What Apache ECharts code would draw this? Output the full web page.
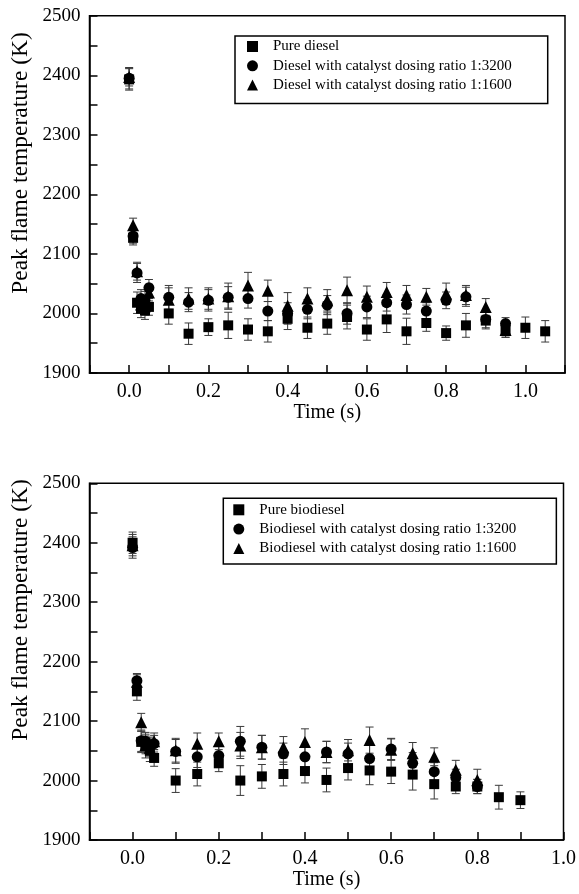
<!DOCTYPE html>
<html>
<head>
<meta charset="utf-8">
<script src="https://cdn.jsdelivr.net/npm/echarts@6/dist/echarts.min.js"></script>
<style>
html,body{margin:0;padding:0;background:#fff;}
#chart{width:579px;height:894px;}
</style>
</head>
<body>
<div id="chart"></div>
<script>
// ---------- Data: top panel (diesel) ----------
const timeDieselPure = [0, 0.01, 0.02, 0.03, 0.04, 0.05, 0.1, 0.15, 0.2, 0.25, 0.3, 0.35, 0.4, 0.45, 0.5, 0.55, 0.6, 0.65, 0.7, 0.75, 0.8, 0.85, 0.9, 0.95, 1.0, 1.05];
const tempDieselPure = [2393, 2127, 2018, 2008, 2005, 2011, 2000, 1966, 1977, 1980, 1973, 1970, 1991, 1976, 1983, 1994, 1973, 1990, 1970, 1984, 1967, 1980, 1988, 1972, 1976, 1970];
const errDieselPure  = [18, 12, 18, 15, 15, 14, 18, 18, 14, 22, 18, 18, 18, 18, 18, 20, 18, 22, 22, 14, 12, 20, 14, 12, 18, 18];

const timeDieselCat = [0, 0.01, 0.02, 0.03, 0.04, 0.05, 0.1, 0.15, 0.2, 0.25, 0.3, 0.35, 0.4, 0.45, 0.5, 0.55, 0.6, 0.65, 0.7, 0.75, 0.8, 0.85, 0.9, 0.95];
const tempDiesel3200 = [2395, 2130, 2068, 2025, 2022, 2043, 2027, 2019, 2022, 2027, 2025, 2004, 2000, 2007, 2014, 2000, 2011, 2018, 2015, 2004, 2022, 2028, 1990, 1983];
const errDiesel3200  = [18, 12, 16, 15, 15, 14, 20, 16, 18, 18, 16, 16, 18, 16, 16, 18, 18, 14, 16, 14, 14, 16, 14, 10];
const tempDiesel1600 = [2397, 2148, 2071, 2015, 2012, 2035, 2023, 2025, 2025, 2029, 2047, 2038, 2013, 2025, 2022, 2039, 2028, 2036, 2031, 2028, 2033, 2031, 2011, 1972];
const errDiesel1600  = [15, 12, 15, 15, 15, 14, 20, 18, 18, 22, 22, 18, 22, 18, 18, 22, 18, 16, 16, 14, 18, 16, 14, 12];

// ---------- Data: bottom panel (biodiesel) ----------
const timeBioPure = [0, 0.01, 0.02, 0.03, 0.04, 0.05, 0.1, 0.15, 0.2, 0.25, 0.3, 0.35, 0.4, 0.45, 0.5, 0.55, 0.6, 0.65, 0.7, 0.75, 0.8, 0.85, 0.9];
const tempBioPure = [2400, 2150, 2065, 2058, 2050, 2038, 2000, 2011, 2029, 2000, 2007, 2011, 2016, 2001, 2021, 2017, 2015, 2010, 1994, 1990, 1990, 1972, 1967];
const errBioPure  = [18, 15, 18, 20, 18, 14, 20, 20, 14, 25, 20, 20, 20, 20, 20, 24, 20, 26, 25, 12, 12, 20, 14];

const timeBioCat = [0, 0.01, 0.02, 0.03, 0.04, 0.05, 0.1, 0.15, 0.2, 0.25, 0.3, 0.35, 0.4, 0.45, 0.5, 0.55, 0.6, 0.65, 0.7, 0.75, 0.8];
const tempBio3200 = [2392, 2168, 2067, 2066, 2058, 2062, 2049, 2040, 2042, 2066, 2056, 2045, 2040, 2048, 2045, 2037, 2053, 2029, 2015, 2005, 1990];
const errBio3200  = [18, 12, 18, 15, 15, 14, 20, 18, 16, 25, 20, 18, 18, 18, 18, 22, 18, 18, 15, 14, 12];
const tempBio1600 = [2396, 2166, 2098, 2060, 2055, 2066, 2051, 2062, 2066, 2059, 2056, 2056, 2065, 2048, 2051, 2068, 2052, 2046, 2040, 2018, 2001];
const errBio1600  = [18, 12, 15, 15, 15, 14, 20, 18, 14, 22, 20, 18, 22, 18, 18, 22, 18, 18, 15, 16, 18];

// Labels
const topNames = ['Pure diesel', 'Diesel with catalyst dosing ratio 1:3200', 'Diesel with catalyst dosing ratio 1:1600'];
const botNames = ['Pure biodiesel', 'Biodiesel with catalyst dosing ratio 1:3200', 'Biodiesel with catalyst dosing ratio 1:1600'];
const xTitle = 'Time (s)';
const yTitle = 'Peak flame temperature (K)';

// ---------- Build chart ----------
const FONT = '"Liberation Serif", "DejaVu Serif", serif';
const chart = echarts.init(document.getElementById('chart'), null, {renderer: 'canvas'});

function pts(t, v) { return t.map((x, i) => [x, v[i]]); }
function errs(t, v, e) { return t.map((x, i) => [x, v[i], e[i]]); }

function errorSeries(data, gi) {
  return {
    type: 'custom', xAxisIndex: gi, yAxisIndex: gi, z: 1, silent: true,
    encode: {x: 0, y: 1},
    data: data,
    renderItem: function (params, api) {
      const x = api.value(0), y = api.value(1), e = api.value(2);
      const p1 = api.coord([x, y + e]);
      const p2 = api.coord([x, y - e]);
      const hw = 4;
      const st = {stroke: '#3a3a3a', lineWidth: 1};
      return {type: 'group', children: [
        {type: 'line', shape: {x1: p1[0], y1: p1[1], x2: p2[0], y2: p2[1]}, style: st},
        {type: 'line', shape: {x1: p1[0] - hw, y1: p1[1], x2: p1[0] + hw, y2: p1[1]}, style: st},
        {type: 'line', shape: {x1: p2[0] - hw, y1: p2[1], x2: p2[0] + hw, y2: p2[1]}, style: st}
      ]};
    }
  };
}

function scatter(name, data, gi, symbol, size) {
  return {
    type: 'scatter', name: name, xAxisIndex: gi, yAxisIndex: gi, z: 5,
    symbol: symbol, symbolSize: size, data: data,
    itemStyle: {color: '#000', opacity: 1}
  };
}

function xAxisCfg(gi, max) {
  return {
    type: 'value', gridIndex: gi, min: -0.1, max: max, interval: 0.1,
    name: xTitle, nameLocation: 'middle', nameGap: gi === 0 ? 29 : 30,
    nameTextStyle: {fontFamily: FONT, fontSize: 20, color: '#000'},
    axisLine: {show: true, onZero: false, lineStyle: {color: '#000', width: 1.5}},
    axisTick: {show: true, inside: true, length: 8, lineStyle: {color: '#000', width: 1.5}},
    axisLabel: {
      fontFamily: FONT, fontSize: 20, color: '#000', margin: 9,
      showMinLabel: true, showMaxLabel: true,
      formatter: function (v) {
        const k = Math.round(v * 10);
        return (k >= 0 && k % 2 === 0) ? (k / 10).toFixed(1) : '';
      }
    },
    splitLine: {show: false}
  };
}

function yAxisCfg(gi) {
  return {
    type: 'value', gridIndex: gi, min: 1900, max: 2500, interval: 50,
    axisLine: {show: true, onZero: false, lineStyle: {color: '#000', width: 1.5}},
    axisTick: {show: true, inside: true, length: 8, lineStyle: {color: '#000', width: 1.5}},
    axisLabel: {
      fontFamily: FONT, fontSize: 19, color: '#000', margin: 9,
      showMinLabel: true, showMaxLabel: true,
      formatter: function (v) { return (Math.round(v) % 100 === 0) ? String(Math.round(v)) : ''; }
    },
    splitLine: {show: false}
  };
}

function legendCfg(names, left, top, pad) {
  return {
    orient: 'vertical', left: left, top: top,
    data: [
      {name: names[0], icon: 'rect', itemStyle: {color: '#000'}},
      {name: names[1], icon: 'circle', itemStyle: {color: '#000'}},
      {name: names[2], icon: 'triangle', itemStyle: {color: '#000'}}
    ],
    itemWidth: 11, itemHeight: 11, itemGap: 0.3,
    padding: pad,
    borderColor: '#000', borderWidth: 1.5,
    selectedMode: false,
    textStyle: {fontFamily: FONT, fontSize: 15, color: '#000', lineHeight: 19, padding: [0, 0, 0, 10]}
  };
}

const option = {
  backgroundColor: '#fff',
  animation: false,
  grid: [
    {left: 89.5, top: 15.7, right: 14, height: 357.3, show: true, borderColor: '#000', borderWidth: 1.5, containLabel: false},
    {left: 89.5, top: 483.3, right: 14, height: 356.7, show: true, borderColor: '#000', borderWidth: 1.5, containLabel: false}
  ],
  xAxis: [xAxisCfg(0, 1.1), xAxisCfg(1, 1.0)],
  yAxis: [yAxisCfg(0), yAxisCfg(1)],
  legend: [
    legendCfg(topNames, 235, 36, [1, 36, 9, 12]),
    legendCfg(botNames, 223.3, 498.3, [2, 40, 6, 10])
  ],
  graphic: [
    {type: 'text', x: 21, y: 163, rotation: Math.PI / 2,
     style: {text: yTitle, fontFamily: FONT, fontSize: 23.5, fill: '#000', textAlign: 'center', textVerticalAlign: 'middle'}},
    {type: 'text', x: 21, y: 610, rotation: Math.PI / 2,
     style: {text: yTitle, fontFamily: FONT, fontSize: 23.5, fill: '#000', textAlign: 'center', textVerticalAlign: 'middle'}}
  ],
  series: [
    errorSeries(errs(timeDieselPure, tempDieselPure, errDieselPure), 0),
    errorSeries(errs(timeDieselCat, tempDiesel3200, errDiesel3200), 0),
    errorSeries(errs(timeDieselCat, tempDiesel1600, errDiesel1600), 0),
    scatter(topNames[0], pts(timeDieselPure, tempDieselPure), 0, 'rect', 10),
    scatter(topNames[1], pts(timeDieselCat, tempDiesel3200), 0, 'circle', 11),
    scatter(topNames[2], pts(timeDieselCat, tempDiesel1600), 0, 'triangle', 12),
    errorSeries(errs(timeBioPure, tempBioPure, errBioPure), 1),
    errorSeries(errs(timeBioCat, tempBio3200, errBio3200), 1),
    errorSeries(errs(timeBioCat, tempBio1600, errBio1600), 1),
    scatter(botNames[0], pts(timeBioPure, tempBioPure), 1, 'rect', 10),
    scatter(botNames[1], pts(timeBioCat, tempBio3200), 1, 'circle', 11),
    scatter(botNames[2], pts(timeBioCat, tempBio1600), 1, 'triangle', 12)
  ]
};
chart.setOption(option);
</script>
</body>
</html>
